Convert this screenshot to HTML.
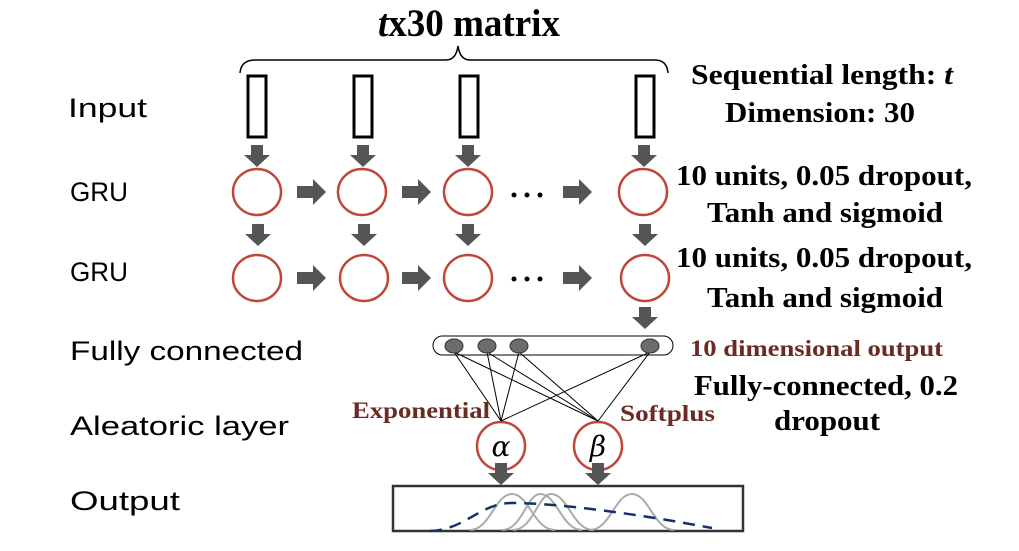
<!DOCTYPE html>
<html><head><meta charset="utf-8"><style>
html,body{margin:0;padding:0;background:#fff;}
svg{display:block;}
.l{font-family:"Liberation Sans",sans-serif;font-size:27px;fill:#000;}
.r{font-family:"Liberation Serif",serif;font-weight:bold;font-size:29px;fill:#000;text-anchor:middle;}
.b{font-family:"Liberation Serif",serif;font-weight:bold;font-size:23px;fill:#6b2a22;}
</style></head><body>
<svg width="1019" height="551" viewBox="0 0 1019 551" xmlns="http://www.w3.org/2000/svg">
<defs>
<g id="da"><path d="M-6,0 H6 V10 H13 L0,22 L-13,10 H-6 Z" fill="#555"/></g>
<g id="ra"><path d="M0,-6 V6 H16 V13 L29,0 L16,-13 V-6 Z" fill="#555"/></g>
</defs>
<text x="469" y="36" font-family="Liberation Serif,serif" font-weight="bold" font-size="39" text-anchor="middle" textLength="182" lengthAdjust="spacingAndGlyphs"><tspan font-style="italic">t</tspan>x30 matrix</text>
<path d="M240,73 Q241,60 255,60 H446 Q456,60 458,46 Q460,60 470,60 H655 Q667,60 668,73" fill="none" stroke="#000" stroke-width="1.5"/>
<g fill="none" stroke="#000" stroke-width="3">
<rect x="248" y="76" width="18" height="61"/><rect x="354" y="76" width="18" height="61"/>
<rect x="460" y="76" width="18" height="61"/><rect x="636" y="76" width="18" height="61"/>
</g>
<use href="#da" x="257" y="145"/><use href="#da" x="363" y="145"/><use href="#da" x="468" y="145"/><use href="#da" x="644" y="145"/>
<use href="#da" x="258" y="224"/><use href="#da" x="364" y="224"/><use href="#da" x="468" y="224"/><use href="#da" x="645" y="224"/>
<use href="#da" x="645" y="307"/>
<g fill="none" stroke="#c0463a" stroke-width="2.5">
<ellipse cx="257" cy="192" rx="24" ry="23"/><ellipse cx="362" cy="192" rx="24" ry="23"/><ellipse cx="468" cy="192" rx="24" ry="23"/><ellipse cx="643" cy="192" rx="24" ry="23"/>
<ellipse cx="257" cy="278" rx="24" ry="23"/><ellipse cx="364" cy="278" rx="24" ry="23"/><ellipse cx="468" cy="278" rx="24" ry="23"/><ellipse cx="645" cy="278" rx="24" ry="23"/>
<ellipse cx="501" cy="446" rx="24" ry="24"/><ellipse cx="598" cy="446" rx="24" ry="24"/>
</g>
<use href="#ra" x="297" y="192"/><use href="#ra" x="402" y="192"/><use href="#ra" x="563" y="192"/>
<use href="#ra" x="297" y="278"/><use href="#ra" x="402" y="278"/><use href="#ra" x="563" y="278"/>
<g fill="#000"><circle cx="514" cy="195" r="2.5"/><circle cx="527" cy="195" r="2.5"/><circle cx="540" cy="195" r="2.5"/>
<circle cx="514" cy="279" r="2.5"/><circle cx="527" cy="279" r="2.5"/><circle cx="540" cy="279" r="2.5"/>
<circle cx="565" cy="348" r="1.5"/><circle cx="573" cy="348" r="1.5"/><circle cx="581" cy="348" r="1.5"/></g>
<rect x="433" y="336" width="240" height="19" rx="9.5" fill="#fff" stroke="#000" stroke-width="1"/>
<g stroke="#000" stroke-width="1">
<line x1="454" y1="352" x2="501" y2="421"/><line x1="487" y1="352" x2="501" y2="421"/><line x1="519" y1="352" x2="501" y2="421"/><line x1="650" y1="352" x2="501" y2="421"/>
<line x1="454" y1="352" x2="598" y2="421"/><line x1="487" y1="352" x2="598" y2="421"/><line x1="519" y1="352" x2="598" y2="421"/><line x1="650" y1="352" x2="598" y2="421"/>
</g>
<g fill="#6d6d6d" stroke="#333" stroke-width="1">
<ellipse cx="454" cy="346" rx="9" ry="7"/><ellipse cx="487" cy="346" rx="9" ry="7"/><ellipse cx="519" cy="346" rx="9" ry="7"/><ellipse cx="650" cy="346" rx="9" ry="7"/>
</g>
<text x="501" y="456" font-family="DejaVu Serif,serif" font-style="italic" font-size="28" text-anchor="middle">α</text>
<text x="598" y="456" font-family="DejaVu Serif,serif" font-style="italic" font-size="28" text-anchor="middle">β</text>
<use href="#da" x="501" y="463"/><use href="#da" x="598" y="463"/>
<rect x="393" y="486" width="350" height="45" fill="#fff" stroke="#333" stroke-width="2.5"/>
<g fill="none" stroke="#aaa" stroke-width="2">
<path d="M470,530 C490,530 495,494 512,494 C529,494 534,530 555,530"/>
<path d="M502,530 C522,530 527,494 540,494 C557,494 562,530 582,530"/>
<path d="M513,530 C533,530 538,494 551,494 C568,494 573,530 593,530"/>
<path d="M590,530 C610,530 615,494 632,494 C649,494 654,530 674,530"/>
</g>
<path d="M430,531 C465,530 480,503 512,503 C560,503 640,515 690,524 L712,528" fill="none" stroke="#13306b" stroke-width="2.5" stroke-dasharray="12,8"/>
<text class="l" x="68" y="117" textLength="79" lengthAdjust="spacingAndGlyphs">Input</text>
<text class="l" x="70" y="201" textLength="58" lengthAdjust="spacingAndGlyphs">GRU</text>
<text class="l" x="70" y="281" textLength="58" lengthAdjust="spacingAndGlyphs">GRU</text>
<text class="l" x="70" y="360" textLength="233" lengthAdjust="spacingAndGlyphs">Fully connected</text>
<text class="l" x="70" y="435" textLength="219" lengthAdjust="spacingAndGlyphs">Aleatoric layer</text>
<text class="l" x="70" y="510" textLength="110" lengthAdjust="spacingAndGlyphs">Output</text>
<text class="r" x="822" y="84" font-size="26" textLength="262" lengthAdjust="spacingAndGlyphs">Sequential length: <tspan font-style="italic">t</tspan></text>
<text class="r" x="820" y="122" font-size="26" textLength="190" lengthAdjust="spacingAndGlyphs">Dimension: 30</text>
<text class="r" x="824" y="185" textLength="296" lengthAdjust="spacingAndGlyphs">10 units, 0.05 dropout,</text>
<text class="r" x="825" y="222" textLength="236" lengthAdjust="spacingAndGlyphs">Tanh and sigmoid</text>
<text class="r" x="824" y="267" textLength="296" lengthAdjust="spacingAndGlyphs">10 units, 0.05 dropout,</text>
<text class="r" x="825" y="307" textLength="236" lengthAdjust="spacingAndGlyphs">Tanh and sigmoid</text>
<text class="b" x="690" y="356" textLength="253" lengthAdjust="spacingAndGlyphs">10 dimensional output</text>
<text class="r" x="826" y="395" textLength="264" lengthAdjust="spacingAndGlyphs">Fully-connected, 0.2</text>
<text class="r" x="827" y="430" textLength="106" lengthAdjust="spacingAndGlyphs">dropout</text>
<text class="b" x="352" y="418" textLength="138" lengthAdjust="spacingAndGlyphs">Exponential</text>
<text class="b" x="620" y="421" textLength="95" lengthAdjust="spacingAndGlyphs">Softplus</text>
</svg>
</body></html>
